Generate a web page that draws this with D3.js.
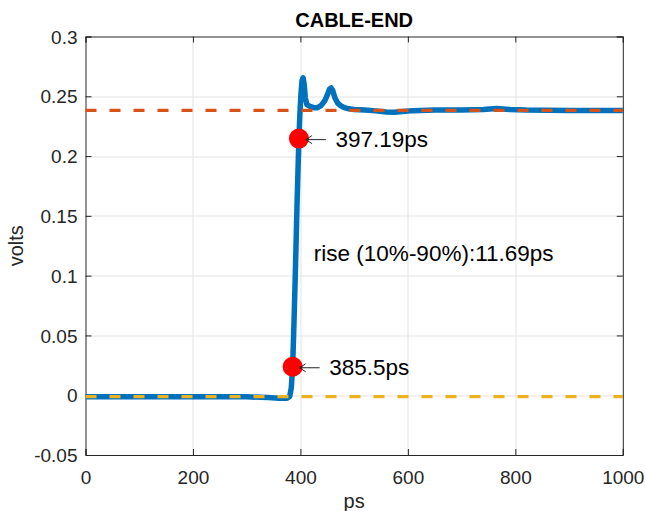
<!DOCTYPE html>
<html>
<head>
<meta charset="utf-8">
<script src="https://cdn.jsdelivr.net/npm/d3@7"></script>
<style>
    body { margin: 0; background: #fff; }
    text { font-family: "Liberation Sans", Arial, Helvetica, sans-serif; fill: #262626; }
    .grid line { stroke: #e3e3e3; stroke-width: 1; }
    .axis path, .axis line { stroke: #262626; }
</style>
</head>
<body>
<div id="chart"></div>
<script>
// Waveform at the cable end
var timePs = [0, 100, 200, 300, 340, 360, 375, 380, 383, 385.5, 388, 391, 394, 397.19, 399, 401, 403, 405,
    407, 409, 412, 418, 425, 431, 438, 445, 450, 454, 457, 460, 464, 469, 475, 482, 490, 500, 520, 540,
    560, 575, 590, 610, 650, 700, 740, 765, 790, 820, 900, 1000];
var volts = [-0.0012, -0.0012, -0.0012, -0.0013, -0.002, -0.0025, -0.0025, -0.001, 0.006, 0.0238, 0.06, 0.11,
    0.165, 0.2146, 0.235, 0.252, 0.263, 0.2655, 0.26, 0.249, 0.243, 0.2415, 0.2405, 0.2405, 0.242, 0.246,
    0.251, 0.256, 0.257, 0.255, 0.249, 0.2445, 0.242, 0.2405, 0.2395, 0.239, 0.2385, 0.2378, 0.2368, 0.2366,
    0.2372, 0.238, 0.2385, 0.2386, 0.239, 0.2398, 0.239, 0.2385, 0.2382, 0.2382];

// Reference levels (final value and start value)
var highLevel = 0.2382;
var lowLevel = -0.0012;

// 10% / 90% crossing markers
var markerTimes = [385.5, 397.19];
var markerVolts = [0.0238, 0.2146];
var markerLabels = ["385.5ps", "397.19ps"];
var riseLabel = "rise (10%-90%):11.69ps";

var xTicks = [0, 200, 400, 600, 800, 1000];
var yTicks = [-0.05, 0, 0.05, 0.1, 0.15, 0.2, 0.25, 0.3];
var yTickLabels = ["-0.05", "0", "0.05", "0.1", "0.15", "0.2", "0.25", "0.3"];

var margin = {top: 36.5, right: 23.2, bottom: 56, left: 85.5};
var width = 646 - margin.left - margin.right;
var height = 511 - margin.top - margin.bottom;

var svg = d3.select("#chart").append("svg")
    .attr("width", 646)
    .attr("height", 511)
    .append("g")
    .attr("transform", "translate(" + margin.left + "," + margin.top + ")");

var x = d3.scaleLinear().domain([0, 1000]).range([0, width]);
var y = d3.scaleLinear().domain([-0.05, 0.3]).range([height, 0]);

// Grid
var grid = svg.append("g").attr("class", "grid");
grid.selectAll(".gx").data(xTicks.slice(1, -1)).enter().append("line")
    .attr("x1", function(d) { return Math.round(x(d)) + 0.5; })
    .attr("x2", function(d) { return Math.round(x(d)) + 0.5; })
    .attr("y1", 0).attr("y2", height);
grid.selectAll(".gy").data(yTicks.slice(1, -1)).enter().append("line")
    .attr("y1", function(d) { return Math.round(y(d)) + 0.5; })
    .attr("y2", function(d) { return Math.round(y(d)) + 0.5; })
    .attr("x1", 0).attr("x2", width);

// Axes (ticks inward, box on)
var xAxis = d3.axisBottom(x).tickValues(xTicks).tickSize(-6).tickPadding(16).tickFormat(d3.format("d"));
var yAxis = d3.axisLeft(y).tickValues(yTicks).tickSize(-6).tickPadding(8)
    .tickFormat(function(d, i) { return yTickLabels[i]; });

var gx = svg.append("g").attr("class", "axis").attr("transform", "translate(0," + height + ")").call(xAxis);
var gy = svg.append("g").attr("class", "axis").call(yAxis);
svg.append("g").attr("class", "axis")
    .call(d3.axisTop(x).tickValues(xTicks).tickSize(-6).tickFormat(""));
svg.append("g").attr("class", "axis").attr("transform", "translate(" + width + ",0)")
    .call(d3.axisRight(y).tickValues(yTicks).tickSize(-6).tickFormat(""));

svg.selectAll(".axis text").style("font-size", "19px").style("fill", "#262626");
gy.selectAll("text").attr("dy", "0.35em");
gx.selectAll("text").attr("dy", "0.71em");

// Waveform
var line = d3.line()
    .x(function(d, i) { return x(timePs[i]); })
    .y(function(d) { return y(d); });

svg.append("path")
    .datum(volts)
    .attr("d", line)
    .attr("fill", "none")
    .attr("stroke", "#0072BD")
    .attr("stroke-width", 5.5)
    .attr("stroke-linejoin", "round");

// Dashed reference levels
svg.append("line")
    .attr("x1", x(0)).attr("x2", x(1000))
    .attr("y1", y(highLevel)).attr("y2", y(highLevel))
    .attr("stroke", "#D95319").attr("stroke-width", 3.2)
    .style("stroke-dasharray", "11,13");
svg.append("line")
    .attr("x1", x(0)).attr("x2", x(1000))
    .attr("y1", y(lowLevel)).attr("y2", y(lowLevel))
    .attr("stroke", "#EDB120").attr("stroke-width", 3.2)
    .style("stroke-dasharray", "11,13");

// Markers + arrows + labels
svg.selectAll(".marker").data(markerTimes).enter().append("circle")
    .attr("cx", function(d) { return x(d); })
    .attr("cy", function(d, i) { return y(markerVolts[i]); })
    .attr("r", 10)
    .attr("fill", "#ff0000");

markerTimes.forEach(function(t, i) {
    var cx = x(t), cy = y(markerVolts[i]) + 1;
    svg.append("path")
        .attr("d", "M" + (cx + 27) + "," + cy + "H" + (cx + 7) + "M" + (cx + 13) + "," + (cy - 4) +
            "L" + (cx + 7) + "," + cy + "L" + (cx + 13) + "," + (cy + 4))
        .attr("fill", "none")
        .attr("stroke", "#262626")
        .attr("stroke-width", 1);
    svg.append("text")
        .attr("x", cx + 36.5)
        .attr("y", cy + 7)
        .style("font-size", "22.5px")
        .style("fill", "#000")
        .text(markerLabels[i]);
});

svg.append("text")
    .attr("x", x(425))
    .attr("y", y(0.112))
    .style("font-size", "22.5px")
    .style("fill", "#000")
    .text(riseLabel);

// Title and axis labels
svg.append("text")
    .attr("x", width / 2)
    .attr("y", -9.5)
    .attr("text-anchor", "middle")
    .style("font-size", "20px")
    .style("font-weight", "bold")
    .style("fill", "#000")
    .text("CABLE-END");

svg.append("text")
    .attr("x", width / 2)
    .attr("y", height + 53)
    .attr("text-anchor", "middle")
    .style("font-size", "20px")
    .text("ps");

svg.append("text")
    .attr("transform", "translate(" + (23 - margin.left) + "," + (height / 2) + ") rotate(-90)")
    .attr("text-anchor", "middle")
    .style("font-size", "20px")
    .text("volts");
</script>
</body>
</html>
